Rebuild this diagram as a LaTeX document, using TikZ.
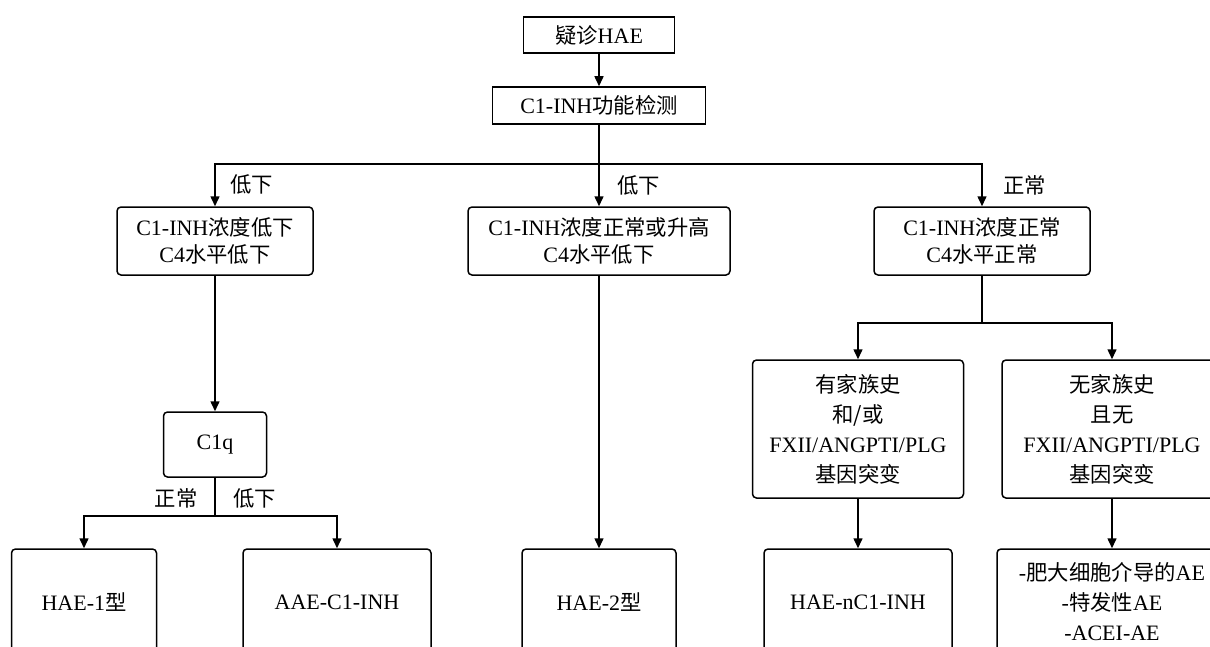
\documentclass[tikz,border=0pt]{standalone}
\usepackage{fontspec}
\setmainfont{Liberation Serif}
\newfontfamily\cjk[Scale=0.97]{Noto Sans CJK SC}
\usetikzlibrary{arrows.meta}
\tikzset{%
    Dbox/.style={draw, line width=0.75pt, inner sep=0pt, align=center,
        font=\fontsize{11}{13.5}\selectfont},
    Drbox/.style={Dbox, rounded corners=2pt},
    Dtall/.style={font=\fontsize{11}{15}\selectfont},
    Dsize/.style n args={2}{minimum width=#1*0.5pt, minimum height=#2*0.5pt},
    Dline/.style={line width=0.75pt},
    Darrow/.style={Dline, -{Triangle[length=5pt,width=4.5pt]}},
    Dlabel/.style={inner sep=0pt, font=\fontsize{11}{13}\selectfont\cjk}
}
\newcommand{\zh}[1]{{\cjk #1}}

\begin{document}
\begin{tikzpicture}[x=0.5pt,y=-0.5pt]
    \useasboundingbox (0,0) rectangle (1210,647);
    \clip (0,0) rectangle (1210,647);

    % top of the chart
    \node [Dbox,Dsize={151}{36}] (Nsusp) at (599,35) {\zh{疑诊}HAE};
    \node [Dbox,Dsize={213}{37}] (Ntest) at (599,105.5) {C1-INH\zh{功能检测}};

    % three results of the test
    \node [Drbox,Dsize={196}{68}] (Nlow) at (215,241)
        {C1-INH\zh{浓度低下}\\C4\zh{水平低下}};
    \node [Drbox,Dsize={262}{68}] (Nnorm) at (599,241)
        {C1-INH\zh{浓度正常或升高}\\C4\zh{水平低下}};
    \node [Drbox,Dsize={216}{68}] (Nnormal) at (982,241)
        {C1-INH\zh{浓度正常}\\C4\zh{水平正常}};

    % second level
    \node [Drbox,Dsize={103}{65}] (Nc1q) at (215,444.5) {C1q};
    \node [Drbox,Dtall,Dsize={211}{138}] (Nfam) at (858,429)
        {\zh{有家族史}\\\zh{和/或}\\FXII/ANGPTI/PLG\\\zh{基因突变}};
    \node [Drbox,Dtall,Dsize={220}{138}] (Nnofam) at (1112,429)
        {\zh{无家族史}\\\zh{且无}\\FXII/ANGPTI/PLG\\\zh{基因突变}};

    % diagnoses (cut by the lower edge)
    \node [Drbox,Dsize={145}{106}] (Nhae1) at (84,602) {HAE-1\zh{型}};
    \node [Drbox,Dsize={188}{106}] (Naae) at (337,602) {AAE-C1-INH};
    \node [Drbox,Dsize={154}{106}] (Nhae2) at (599,602) {HAE-2\zh{型}};
    \node [Drbox,Dsize={188}{106}] (Nnc1) at (858,602) {HAE-nC1-INH};
    \node [Drbox,Dtall,Dsize={230}{106}] (Nother) at (1112,602)
        {-\zh{肥大细胞介导的}AE\\-\zh{特发性}AE\\-ACEI-AE};

    % branch points
    \path
        (599,164) coordinate (Njoin)
        (215,516) coordinate (Nc1qjoin)
        (982,323) coordinate (Nrjoin);

    % connectors
    \draw [Darrow] (Nsusp) -- (Ntest);
    \draw [Dline] (Ntest.south) -- (Njoin);
    \foreach \cT in {Nlow,Nnorm,Nnormal}
        \draw [Darrow] (Njoin) -| (\cT.north);
    \draw [Darrow] (Nlow) -- (Nc1q);
    \draw [Dline] (Nc1q.south) -- (Nc1qjoin);
    \foreach \cT in {Nhae1,Naae}
        \draw [Darrow] (Nc1qjoin) -| (\cT.north);
    \draw [Darrow] (Nnorm) -- (Nhae2);
    \draw [Dline] (Nnormal.south) -- (Nrjoin);
    \foreach \cT in {Nfam,Nnofam}
        \draw [Darrow] (Nrjoin) -| (\cT.north);
    \draw [Darrow] (Nfam) -- (Nnc1);
    \draw [Darrow] (Nnofam) -- (Nother);

    % labels on the arrows
    \node [Dlabel,anchor=west] (Nl1) at (230,184) {低下};
    \node [Dlabel,anchor=west] (Nl2) at (617,185) {低下};
    \node [Dlabel,anchor=west] (Nl3) at (1003,185) {正常};
    \node [Dlabel,anchor=east] (Nl4) at (198,498) {正常};
    \node [Dlabel,anchor=west] (Nl5) at (233,498) {低下};
\end{tikzpicture}
\end{document}
